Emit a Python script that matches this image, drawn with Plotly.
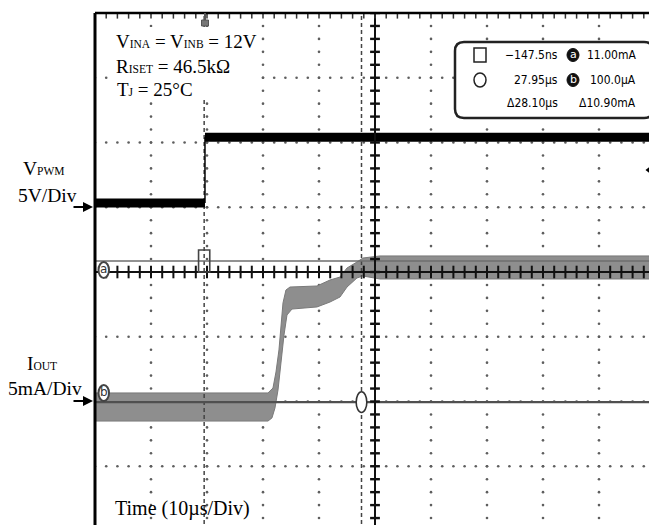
import numpy as np
import plotly.graph_objects as go

# ---------------- data (physical units) ----------------
# VPWM trace (V) vs time (us); trigger edge at t = 0
vpwm_low_t = [-19.7, 0.0]
vpwm_low_v = [0.33, 0.33]
vpwm_high_t = [0.0, 80.4]
vpwm_high_v = [5.4, 5.4]

# IOUT noisy band: upper / lower envelopes (mA) vs time (us)
iout_upper_t = [-19.7, 11.25, 12.14, 12.68, 13.21, 13.57, 13.93, 14.46, 15.18,
                20.0, 22.32, 24.11, 25.36, 27.14, 28.21, 31.25, 80.4]
iout_upper_ma = [0.81, 0.81, 1.19, 2.43, 4.13, 6.06, 7.76, 8.76, 8.99,
                 9.07, 9.53, 9.76, 10.46, 10.92, 11.23, 11.39, 11.39]
iout_lower_t = [-19.7, 11.25, 11.96, 12.5, 13.04, 13.57, 14.11, 14.64, 15.54,
                20.0, 22.32, 24.11, 25.36, 27.14, 28.21, 31.25, 80.4]
iout_lower_ma = [-1.36, -1.36, -1.12, -0.35, 1.04, 2.97, 5.29, 6.83, 7.29,
                 7.45, 7.83, 8.22, 8.99, 9.69, 9.84, 9.61, 9.61]

# cursors
cursor_square_t = -0.1475   # us
cursor_circle_t = 27.95     # us
cursor_a_ma = 11.00
cursor_b_ma = 0.100

readout_time = ["\u2212147.5ns", "27.95\u00b5s", "\u039428.10\u00b5s"]
readout_curr = ["11.00mA", "100.0\u00b5A", "\u039410.90mA"]

# ---------------- scope scaling ----------------
T_PER_DIV = 10.0
T_CENTER = 30.36
V_PER_DIV = 5.0
VPWM_ZERO_DIV = 1.0
I_PER_DIV = 5.0
I_ZERO_DIV = -2.03

def tx(t):
    return [(v - T_CENTER) / T_PER_DIV for v in np.atleast_1d(t)]

def vy(v):
    return [VPWM_ZERO_DIV + a / V_PER_DIV for a in np.atleast_1d(v)]

def iy(i):
    return [I_ZERO_DIV + a / I_PER_DIV for a in np.atleast_1d(i)]

# pixel geometry of plot area (page pixels); page body has an 8px margin
W, H = 657, 525
OFF = 8
PL, PR, PT, PB = 95, 655, 13, 525
Y_BOTTOM = 4 - (PB - PT) / 64.75

def px(xp):  # page pixel -> paper x
    return (xp - PL) / (PR - PL)

def py(yp):  # page pixel -> paper y
    return (PB - yp) / (PB - PT)

fig = go.Figure()

# ---- dotted graticule ----
gx, gy = [], []
steps_y = np.round(np.arange(-4, 4.001, 0.2), 3)
steps_x = np.round(np.arange(-5, 5.001, 0.2), 3)
for xv in [-4, -3, -2, -1, 1, 2, 3, 4]:
    gx += [xv] * len(steps_y)
    gy += list(steps_y)
for yv in [-3, -2, -1, 1, 2, 3]:
    gx += list(steps_x)
    gy += [yv] * len(steps_x)
fig.add_trace(go.Scatter(x=gx, y=gy, mode="markers", hoverinfo="skip",
                         marker=dict(size=2.6, color="#5e5e5e", line=dict(width=0)),
                         showlegend=False))

# ---- IOUT noisy band ----
band_x = tx(iout_upper_t) + tx(iout_lower_t)[::-1]
band_y = iy(iout_upper_ma) + iy(iout_lower_ma)[::-1]
fig.add_trace(go.Scatter(x=band_x, y=band_y, mode="lines", fill="toself",
                         fillcolor="#8e8e8e", line=dict(color="#7a7a7a", width=1),
                         hoverinfo="skip", showlegend=False))

# ---- cursor lines ----
for ct in [cursor_square_t, cursor_circle_t]:
    fig.add_trace(go.Scatter(x=tx([ct, ct]), y=[-4, 4], mode="lines",
                             line=dict(color="#444", width=1.5, dash="4px,3px"),
                             hoverinfo="skip", showlegend=False))
fig.add_trace(go.Scatter(x=[-5, 5], y=iy([cursor_a_ma, cursor_a_ma]), mode="lines",
                         line=dict(color="#6e6e6e", width=1.6), hoverinfo="skip", showlegend=False))
fig.add_trace(go.Scatter(x=[-5, 5], y=iy([cursor_b_ma, cursor_b_ma]), mode="lines",
                         line=dict(color="#505050", width=2.2), hoverinfo="skip", showlegend=False))

# ---- VPWM trace ----
fig.add_trace(go.Scatter(x=tx(vpwm_low_t), y=vy(vpwm_low_v), mode="lines",
                         line=dict(color="black", width=9), hoverinfo="skip", showlegend=False))
fig.add_trace(go.Scatter(x=tx(vpwm_high_t), y=vy(vpwm_high_v), mode="lines",
                         line=dict(color="black", width=9), hoverinfo="skip", showlegend=False))
fig.add_trace(go.Scatter(x=tx([0, 0]), y=vy([vpwm_low_v[-1], vpwm_high_v[0]]), mode="lines",
                         line=dict(color="black", width=1.5), hoverinfo="skip", showlegend=False))

# ---- centre axes with ticks ----
fig.add_trace(go.Scatter(x=[-5, 5], y=[0, 0], mode="lines", line=dict(color="#111", width=2),
                         hoverinfo="skip", showlegend=False))
fig.add_trace(go.Scatter(x=[0, 0], y=[-4, 4], mode="lines", line=dict(color="#111", width=2),
                         hoverinfo="skip", showlegend=False))
fig.add_trace(go.Scatter(x=list(steps_x), y=[0] * len(steps_x), mode="markers",
                         marker=dict(symbol="line-ns", size=9, line=dict(color="#111", width=2)),
                         hoverinfo="skip", showlegend=False))
fig.add_trace(go.Scatter(x=[0] * len(steps_y), y=list(steps_y), mode="markers",
                         marker=dict(symbol="line-ew", size=7, line=dict(color="#111", width=2.4)),
                         hoverinfo="skip", showlegend=False))
# border ticks
fig.add_trace(go.Scatter(x=list(steps_x), y=[4] * len(steps_x), mode="markers",
                         marker=dict(symbol="line-ns", size=8, line=dict(color="#333", width=1.5)),
                         hoverinfo="skip", showlegend=False))
fig.add_trace(go.Scatter(x=[5] * len(steps_y), y=list(steps_y), mode="markers",
                         marker=dict(symbol="line-ew", size=8, line=dict(color="#333", width=1.5)),
                         hoverinfo="skip", showlegend=False))
# trigger level marker (right)
fig.add_trace(go.Scatter(x=[(650 - 375) / 56], y=[(272 - 170) / 64.75], mode="markers",
                         marker=dict(symbol="triangle-left", size=9, color="black"),
                         hoverinfo="skip", showlegend=False))

shapes = []
# white area behind the conditions text
shapes.append(dict(type="rect", xref="paper", yref="paper", x0=px(111), x1=px(257),
                   y0=py(100), y1=py(27), line=dict(width=0), fillcolor="white", layer="above"))
# cursor symbols on plot
sq_x = tx(cursor_square_t)[0]
ca_y = iy(cursor_a_ma)[0]
shapes.append(dict(type="rect", xref="x", yref="y", x0=sq_x - 0.1, x1=sq_x + 0.1,
                   y0=ca_y - 0.17, y1=ca_y + 0.17, line=dict(color="#444", width=1.6),
                   fillcolor="rgba(255,255,255,0)"))
ci_x = tx(cursor_circle_t)[0]
cb_y = iy(cursor_b_ma)[0]
shapes.append(dict(type="circle", xref="x", yref="y", x0=ci_x - 0.095, x1=ci_x + 0.095,
                   y0=cb_y - 0.16, y1=cb_y + 0.16, line=dict(color="#333", width=1.6),
                   fillcolor="white"))
# a / b markers at left
for cy in [270, 393]:
    shapes.append(dict(type="circle", xref="paper", yref="paper",
                       x0=px(98.5), x1=px(109), y0=py(cy + 8), y1=py(cy - 8),
                       line=dict(color="#444", width=2), fillcolor="white"))
# border
shapes.append(dict(type="line", xref="paper", yref="paper", x0=0, x1=0, y0=0, y1=1,
                   line=dict(color="black", width=3)))
shapes.append(dict(type="line", xref="paper", yref="paper", x0=0, x1=1, y0=1, y1=1,
                   line=dict(color="black", width=2.5)))
shapes.append(dict(type="line", xref="paper", yref="paper", x0=1, x1=1, y0=0, y1=1,
                   line=dict(color="black", width=3.5)))
# trigger position marker at top
shapes.append(dict(type="line", xref="paper", yref="paper", x0=px(205), x1=px(205),
                   y0=py(21), y1=py(13), line=dict(color="#555", width=2)))
shapes.append(dict(type="rect", xref="paper", yref="paper", x0=px(201.5), x1=px(208.5),
                   y0=py(26), y1=py(20), line=dict(color="#555", width=1), fillcolor="#777"))

# readout box (rounded)
x0, x1 = px(455), px(653)
y0, y1 = py(118), py(42)
rx, ry = 9 / (PR - PL), 9 / (PB - PT)
path = (f"M {x0+rx},{y1} L {x1-rx},{y1} Q {x1},{y1} {x1},{y1-ry} L {x1},{y0+ry} "
        f"Q {x1},{y0} {x1-rx},{y0} L {x0+rx},{y0} Q {x0},{y0} {x0},{y0+ry} "
        f"L {x0},{y1-ry} Q {x0},{y1} {x0+rx},{y1} Z")
shapes.append(dict(type="path", xref="paper", yref="paper", path=path,
                   line=dict(color="#222", width=2.5), fillcolor="white"))
shapes.append(dict(type="rect", xref="paper", yref="paper", x0=px(474), x1=px(486),
                   y0=py(62), y1=py(48), line=dict(color="#222", width=1.5)))
shapes.append(dict(type="circle", xref="paper", yref="paper", x0=px(474), x1=px(486),
                   y0=py(87), y1=py(73), line=dict(color="#222", width=1.5)))
for cy in [55, 80]:
    shapes.append(dict(type="circle", xref="paper", yref="paper", x0=px(567), x1=px(579),
                       y0=py(cy + 6.5), y1=py(cy - 6.5), line=dict(color="#111", width=1),
                       fillcolor="#111"))

ann = []
SERIF = "Liberation Serif, Times New Roman, serif"
NARROW = "Liberation Sans Narrow, Arial Narrow, DejaVu Sans Condensed, sans-serif"

def sub(s, size=11.5):
    return f"<span style='font-size:{size}px'>{s}</span>"

def add_text(text, xp, yp, size=19, anchor="left", font=SERIF, color="black"):
    ann.append(dict(text=text, xref="paper", yref="paper", x=px(xp), y=py(yp),
                    xanchor=anchor, yanchor="middle", showarrow=False,
                    font=dict(family=font, size=size, color=color)))

add_text(f"V{sub('INA')} = V{sub('INB')} = 12V", 114, 41.5)
add_text(f"R{sub('ISET')} = 46.5k\u03a9", 114, 66)
add_text(f"T{sub('J')} = 25\u00b0C", 115, 89)
add_text(f"V{sub('PWM')}", 44, 168, size=19.5, anchor="center")
add_text("5V/Div", 47, 195, size=19.5, anchor="center")
add_text(f"I{sub('OUT')}", 42, 363, size=19.5, anchor="center")
add_text("5mA/Div", 45, 388, size=19.5, anchor="center")
add_text("Time (10\u00b5s/Div)", 113, 508, size=20)

# arrows
for ay in [207, 401]:
    ann.append(dict(x=px(93), y=py(ay), xref="paper", yref="paper",
                    axref="pixel", ayref="pixel", ax=-21, ay=0, showarrow=True, arrowhead=2,
                    arrowsize=1, arrowwidth=2, arrowcolor="black", text=""))

# on-plot a / b letters
add_text("a", 103.8, 269, size=12, anchor="center", font="DejaVu Sans", color="#333")
add_text("b", 103.8, 392, size=12, anchor="center", font="DejaVu Sans", color="#333")

# readout text
for (tt, ct, yy) in zip(readout_time, readout_curr, [55, 80, 103]):
    add_text(tt, 560, yy, size=12, anchor="right", font=NARROW)
    add_text(ct, 638, yy, size=12, anchor="right", font=NARROW)
add_text("a", 573, 54.5, size=11, anchor="center", font="DejaVu Sans", color="white")
add_text("b", 573, 79.5, size=11, anchor="center", font="DejaVu Sans", color="white")

fig.update_layout(
    width=W, height=H,
    margin=dict(l=PL - OFF, r=W - PR + OFF, t=PT - OFF, b=H - PB + OFF, pad=0),
    paper_bgcolor="white", plot_bgcolor="white",
    xaxis=dict(range=[-5, 5], visible=False, showgrid=False, zeroline=False, fixedrange=True),
    yaxis=dict(range=[Y_BOTTOM, 4], visible=False, showgrid=False, zeroline=False, fixedrange=True),
    shapes=shapes, annotations=ann, showlegend=False,
)

fig.write_html("out.html")
